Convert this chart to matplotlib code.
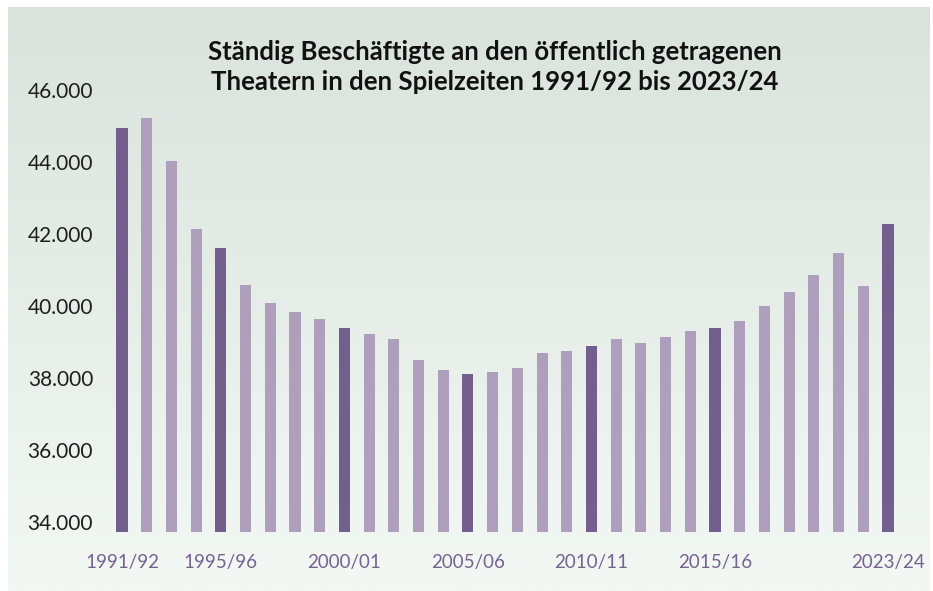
import numpy as np
import matplotlib
matplotlib.use("Agg")
import matplotlib.pyplot as plt
from matplotlib.colors import LinearSegmentedColormap

# Spielzeiten (2020/21 fehlt in der Reihe)
seasons = ["1991/92", "1992/93", "1993/94", "1994/95", "1995/96", "1996/97",
           "1997/98", "1998/99", "1999/00", "2000/01", "2001/02", "2002/03",
           "2003/04", "2004/05", "2005/06", "2006/07", "2007/08", "2008/09",
           "2009/10", "2010/11", "2011/12", "2012/13", "2013/14", "2014/15",
           "2015/16", "2016/17", "2017/18", "2018/19", "2019/20", "2021/22",
           "2022/23", "2023/24"]
employees = [44940, 45220, 44030, 42140, 41610, 40580, 40080, 39830, 39640,
             39390, 39220, 39080, 38500, 38220, 38110, 38170, 38280, 38690,
             38750, 38890, 39080, 38970, 39140, 39310, 39390, 39580, 40000,
             40390, 40860, 41470, 40560, 42280]
highlight = ["1991/92", "1995/96", "2000/01", "2005/06", "2010/11", "2015/16", "2023/24"]
yticks = [34000, 36000, 38000, 40000, 42000, 44000, 46000]

dark = "#735f8d"
light = "#ae9fbd"
base = 33720

plt.rcParams['font.family'] = ['Lato', 'DejaVu Sans']

fig = plt.figure(figsize=(9.33, 5.91), dpi=100, facecolor="white")

# Hintergrund mit Farbverlauf
bg = fig.add_axes([8 / 933, 0, 922 / 933, 584 / 591], zorder=0)
cmap = LinearSegmentedColormap.from_list("bg", ["#d9e3dc", "#f3f8f4"])
bg.imshow(np.linspace(0, 1, 256).reshape(-1, 1), aspect="auto", cmap=cmap)
bg.axis("off")

ax = fig.add_axes([97.3 / 933, 59 / 591, 815.4 / 933, 460 / 591], zorder=1)
ax.set_facecolor("none")

x = np.arange(len(seasons))
colors = [dark if s in highlight else light for s in seasons]
ax.bar(x, [v - base for v in employees], bottom=base, width=0.45, color=colors)

ax.set_xlim(-1, 32)
ax.set_ylim(base, 46500)
ax.set_yticks(yticks)
ax.set_yticklabels([f"{v:,}".replace(",", ".") for v in yticks], fontsize=15, color="#1e1e1e")
ax.set_xticks([seasons.index(s) for s in highlight])
ax.set_xticklabels(highlight, fontsize=13.5, color="#76638f")
ax.tick_params(axis="y", length=0, pad=3)
ax.tick_params(axis="x", length=0, pad=16)
for sp in ax.spines.values():
    sp.set_visible(False)

fig.text(495 / 933, 1 - 67 / 591,
         "Ständig Beschäftigte an den öffentlich getragenen\nTheatern in den Spielzeiten 1991/92 bis 2023/24",
         ha="center", va="center", fontsize=18.5, fontweight="bold", color="#111111",
         linespacing=1.35)

fig.savefig("out.png", dpi=100, facecolor="white")
